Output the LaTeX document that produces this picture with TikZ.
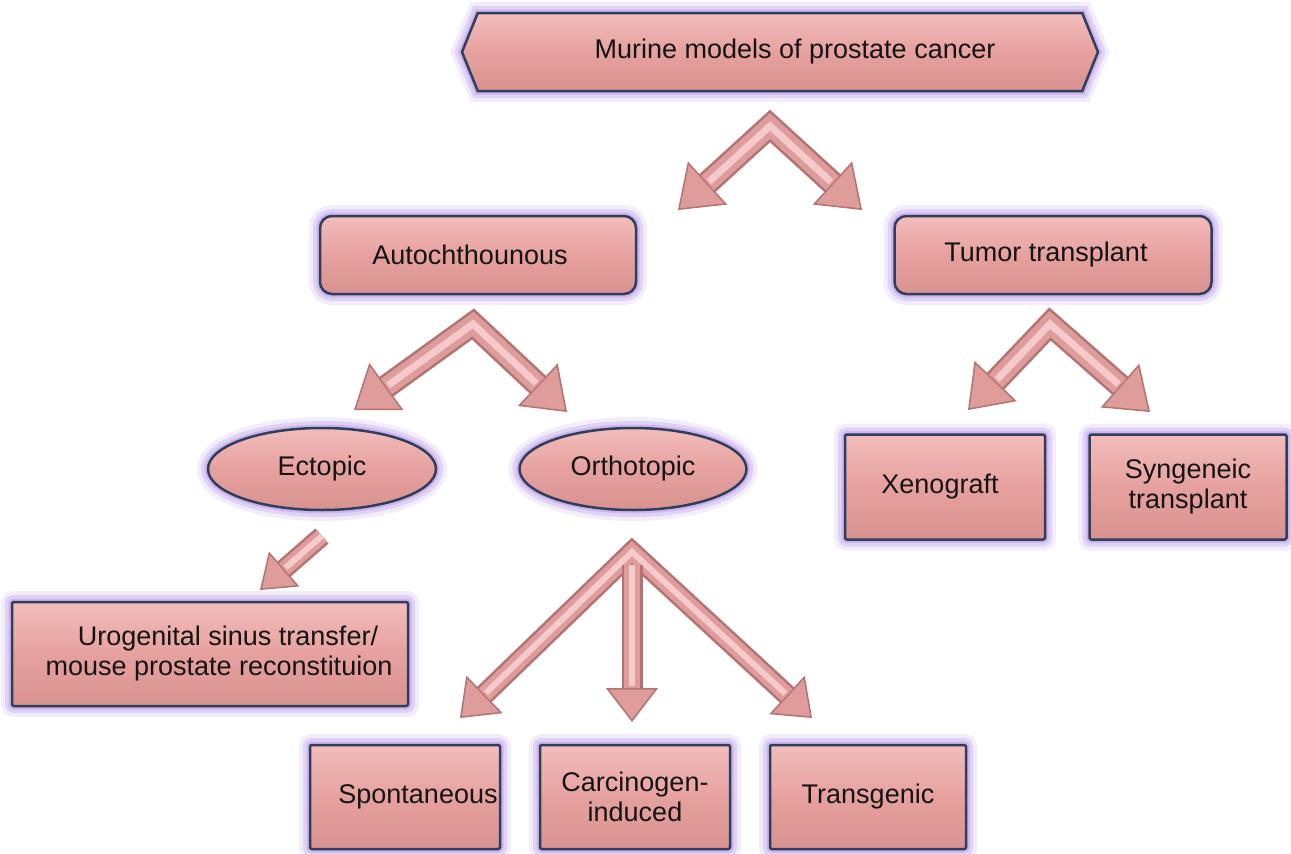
\documentclass[tikz,border=0pt]{standalone}
\usepackage{fontspec}
\setmainfont{Liberation Sans}
\usetikzlibrary{shapes.geometric,shapes.symbols,arrows.meta}
\definecolor{pinkfill}{HTML}{E6A19F}
\definecolor{pinktop}{HTML}{F2BDBB}
\definecolor{pinkbot}{HTML}{D8928F}
\definecolor{edgec}{HTML}{2F3E5A}
\definecolor{glowc}{HTML}{BFA3EC}
\definecolor{arrdark}{HTML}{B47272}
\definecolor{arrmid}{HTML}{DE9C9B}
\definecolor{arrlight}{HTML}{F4CACA}
\definecolor{txt}{HTML}{141414}
\newcommand{\bigfs}{\fontsize{27}{30}\selectfont}
\tikzset{
  bighead/.tip={Triangle[length=40pt,width=58pt,line width=1.5pt,fill=arrmid]},
  midhead/.tip={Triangle[length=34pt,width=52pt,line width=1.5pt,fill=arrmid]},
  smallhead/.tip={Triangle[length=32pt,width=46pt,line width=1.5pt,fill=arrmid]}
}
\begin{document}
\begin{tikzpicture}[x=1pt,y=-1pt,
  glow/.style={preaction={draw=glowc,line width=22pt,draw opacity=0.2},
               preaction={draw=glowc,line width=14pt,draw opacity=0.35},
               preaction={draw=glowc,line width=7pt,draw opacity=0.6}},
  shapebase/.style={glow, draw=edgec, line width=2.5pt, top color=pinktop,
               bottom color=pinkbot, middle color=pinkfill, text=txt,
               font=\bigfs, align=center, inner sep=0pt},
  rbox/.style={shapebase, rectangle, rounded corners=#1},
  oval/.style={shapebase, ellipse},
  hexa/.style={shapebase, signal, signal to=east and west, signal pointer angle=136},
  arrA/.style={draw=arrdark, line width=#1, line join=miter, miter limit=10},
  arrB/.style={draw=arrmid, line width=#1, line join=miter, miter limit=10},
  arrC/.style={draw=arrlight, line width=#1, line join=miter, miter limit=10}
]
\useasboundingbox (0,0) rectangle (1291,854);
\fill[white] (0,0) rectangle (1291,854);

% nodes
\node[hexa, minimum width=636pt, minimum height=78pt] (top) at (780,52) {\hspace*{30pt}Murine models of prostate cancer};
\node[rbox=12pt, minimum width=316pt, minimum height=78pt] (auto) at (478,255) {Autochthounous\hspace*{16pt}};
\node[rbox=12pt, minimum width=317pt, minimum height=78pt] (tumor) at (1053,255) {Tumor transplant\hspace*{14pt}};
\node[oval, minimum width=228pt, minimum height=82pt] (ecto) at (322,469) {Ectopic};
\node[oval, minimum width=227pt, minimum height=82pt] (ortho) at (633,469) {Orthotopic};
\node[rbox=2pt, minimum width=200pt, minimum height=105pt] (xeno) at (945,487) {Xenograft\hspace*{10pt}};
\node[rbox=2pt, minimum width=197pt, minimum height=105pt] (syn) at (1188,487) {Syngeneic\\transplant};
\node[rbox=2pt, minimum width=396pt, minimum height=104pt] (uro) at (210,654) {\hspace*{36pt}Urogenital sinus transfer/\\\hspace*{18pt}mouse prostate reconstituion};
\node[rbox=2pt, minimum width=190pt, minimum height=104pt] (spon) at (405,797) {\hspace*{26pt}Spontaneous};
\node[rbox=2pt, minimum width=190pt, minimum height=104pt] (carc) at (635,797) {Carcinogen-\\induced};
\node[rbox=2pt, minimum width=196pt, minimum height=104pt] (trans) at (868,797) {Transgenic};

% arrow coordinates
\coordinate (ap1) at (770,126);
\coordinate (tl1) at (678,210);
\coordinate (tr1) at (862,210);
\coordinate (ap2) at (473,324);
\coordinate (tl2) at (354,410);
\coordinate (tr2) at (567,412);
\coordinate (ap3) at (1050,324);
\coordinate (tl3) at (968,410);
\coordinate (tr3) at (1150,412);
\coordinate (ap4) at (632,552);
\coordinate (tl4) at (460,718);
\coordinate (tr4) at (812,718);
\coordinate (dn4s) at (632,565);
\coordinate (dn4e) at (632,722);
\coordinate (ec1) at (322,536);
\coordinate (ec2) at (260,590);

% chevron arrows
\foreach \a/\l/\r in {ap1/tl1/tr1, ap2/tl2/tr2, ap3/tl3/tr3}{
  \draw[arrA=24pt, bighead-bighead] (\l) -- (\a) -- (\r);
  \draw[arrB=19pt, shorten <=40pt, shorten >=40pt] (\l) -- (\a) -- (\r);
  \draw[arrC=7pt, shorten <=42pt, shorten >=42pt] (\l) -- (\a) -- (\r);
}
\draw[arrA=21pt, midhead-midhead] (tl4) -- (ap4) -- (tr4);
\draw[arrB=16pt, shorten <=34pt, shorten >=34pt] (tl4) -- (ap4) -- (tr4);
\draw[arrC=6pt, shorten <=36pt, shorten >=36pt] (tl4) -- (ap4) -- (tr4);

\draw[arrA=21pt, -midhead] (dn4s) -- (dn4e);
\draw[arrB=16pt, shorten >=34pt] (dn4s) -- (dn4e);
\draw[arrC=6pt, shorten >=36pt] (dn4s) -- (dn4e);

\draw[arrA=20pt, -smallhead] (ec1) -- (ec2);
\draw[arrB=15pt, shorten >=32pt] (ec1) -- (ec2);
\draw[arrC=6pt, shorten >=34pt] (ec1) -- (ec2);
\end{tikzpicture}
\end{document}
